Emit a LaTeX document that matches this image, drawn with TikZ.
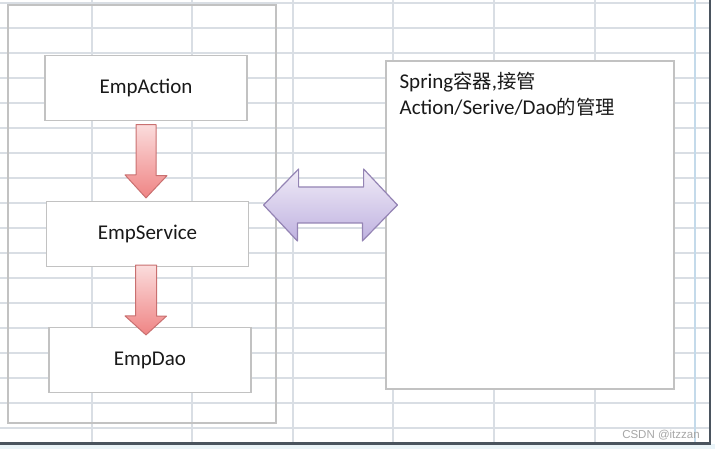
\documentclass[tikz,border=0pt]{standalone}
\usepackage{fontspec}
\setmainfont{Carlito}
\newfontfamily\cjk[Scale=0.92]{Noto Sans CJK SC}
\newfontfamily\markfont{Liberation Sans}
\usepackage{tikz}
\usetikzlibrary{calc}

\definecolor{gridgray}{HTML}{D9DEE4}
\definecolor{gridblue}{HTML}{C4DAEA}
\definecolor{edgedark}{HTML}{4A545E}
\definecolor{paleblue}{HTML}{EAF4F8}
\definecolor{boxgray}{HTML}{C2C2C2}
\definecolor{redline}{HTML}{C97070}
\definecolor{redtop}{HTML}{FBDCDC}
\definecolor{redbot}{HTML}{EF8484}
\definecolor{violine}{HTML}{9484B4}
\definecolor{viotop}{HTML}{F0EBF7}
\definecolor{viobot}{HTML}{BFB2E0}

\begin{document}
\begin{tikzpicture}[x = 1pt, y = -1pt,
  box/.style = {draw = boxgray, line width = 1.2pt, fill = white,
    minimum width = 202pt, minimum height = 65pt, text = black!90,
    font = \fontsize{21}{25}\selectfont},
  redarrow/.style = {draw = redline, line width = 1pt, line join = round,
    top color = redtop, bottom color = redbot},
  bothway/.style = {draw = violine, line width = 1.2pt, line join = round,
    top color = viotop, bottom color = viobot}]
\useasboundingbox (0, 0) rectangle (715, 449);
%\draw[very thin, color = gray](0, 0) grid (715, 449);
% sheet background
\fill[paleblue] (0, 444) rectangle (715, 449);
\foreach \y in {3, 28, ..., 428}
  \draw[gridgray, line width = 1.3pt] (0, \y) -- (709, \y);
\foreach \x in {92, 192, 293, 393, 494, 595}
  \draw[gridgray, line width = 1.3pt] (\x, 0) -- (\x, 443);
\draw[gridblue, line width = 1.3pt] (695, 0) -- (695, 443);
\draw[edgedark, line width = 2pt] (710, 0) -- (710, 443);
\draw[edgedark, line width = 3pt] (0, 443.5) -- (711, 443.5);

\node (layers) at (142, 214) [draw = boxgray, line width = 1.2pt,
  minimum width = 268pt, minimum height = 418pt] {};
\node (act) at (146, 88) [box] {EmpAction};
\node (svc) at (147.5, 234) [box] {EmpService};
\node (dao) at (150, 360) [box] {EmpDao};
\node (spring) at (530, 225) [draw = boxgray, line width = 1.2pt, fill = white,
  minimum width = 288pt, minimum height = 328pt] {};
\node (springtxt) at ($(spring.north west) + (14, 12)$) [anchor = north west,
  inner sep = 0pt, align = left, text = black!90,
  font = \fontsize{21}{26}\selectfont]
  {Spring{\cjk 容器},{\cjk 接管}\\Action/Serive/Dao{\cjk 的管理}};

\draw[redarrow] ($(act.south) + (-10, 3.5)$) -- ++(20, 0) -- ++(0, 51)
  -- ++(11, 0) -- ($(svc.north) + (-1.5, -3)$) -- ++(-21, -23)
  -- ++(11, 0) -- cycle;
\draw[redarrow] ($(svc.south) + (-12, -2)$) -- ++(21, 0) -- ++(0, 51)
  -- ++(10, 0) -- ($(dao.north) + (-4, 8)$) -- ++(-21, -19)
  -- ++(10.5, 0) -- cycle;
\draw[bothway] ($(layers.east) + (-13, -9)$) -- ++(35, -36) -- ++(0, 18)
  -- ++(65, 0) -- ++(0, -18) -- ($(spring.west) + (12, -20)$)
  -- ++(-35, 36) -- ++(0, -18) -- ++(-65, 0) -- ++(0, 18) -- cycle;

\node (mark) at (661, 435) [text = black!35, font = \markfont\fontsize{11.5}{12}\selectfont]
  {CSDN @itzzan};
\end{tikzpicture}
\end{document}
